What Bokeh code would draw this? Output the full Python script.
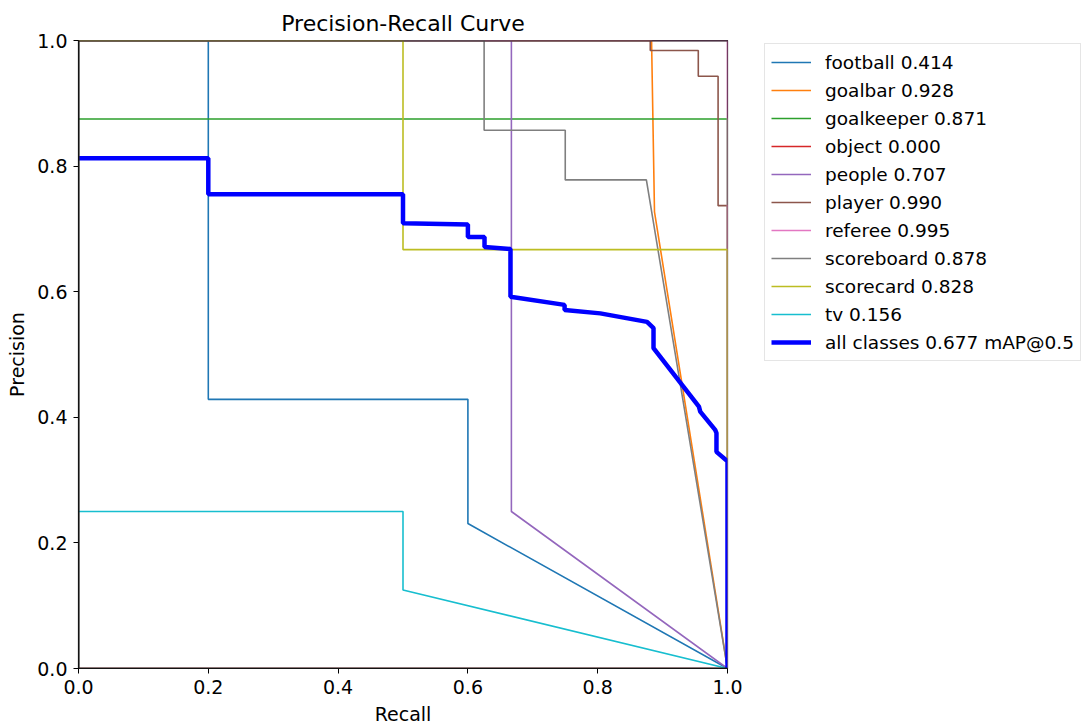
from bokeh.plotting import figure
from bokeh.layouts import row
from bokeh.models import Legend, LegendItem, Range1d, FixedTicker, PrintfTickFormatter, Span
from bokeh.embed import file_html
from bokeh.resources import INLINE

# ---- data (recall, precision) ----
football_r = [0.0, 0.2, 0.2, 0.6, 0.6, 1.0]
football_p = [1.0, 1.0, 0.4286, 0.4286, 0.2308, 0.0]

goalbar_r = [0.0, 0.883, 0.8875, 1.0]
goalbar_p = [1.0, 1.0, 0.727, 0.0]

goalkeeper_r = [0.0, 1.0, 1.0]
goalkeeper_p = [0.875, 0.875, 0.0]

object_r = [0.0, 1.0]
object_p = [0.0, 0.0]

people_r = [0.0, 0.667, 0.667, 1.0]
people_p = [1.0, 1.0, 0.25, 0.0]

player_r = [0.0, 0.881, 0.881, 0.955, 0.955, 0.9855, 0.9855, 1.0, 1.0]
player_p = [1.0, 1.0, 0.984, 0.984, 0.943, 0.943, 0.737, 0.737, 0.0]

referee_r = [0.0, 1.0, 1.0]
referee_p = [1.0, 1.0, 0.0]

scoreboard_r = [0.0, 0.625, 0.625, 0.75, 0.75, 0.875, 1.0]
scoreboard_p = [1.0, 1.0, 0.857, 0.857, 0.778, 0.778, 0.0]

scorecard_r = [0.0, 0.5, 0.5, 1.0, 1.0]
scorecard_p = [1.0, 1.0, 0.667, 0.667, 0.0]

tv_r = [0.0, 0.5, 0.5, 1.0]
tv_p = [0.25, 0.25, 0.125, 0.0]

all_r = [0.0, 0.2, 0.2, 0.5, 0.5, 0.6, 0.6, 0.6256, 0.6256, 0.6656, 0.6656,
         0.749, 0.749, 0.804, 0.876, 0.886, 0.886, 0.956, 0.958, 0.981, 0.983,
         0.983, 1.0, 1.0]
all_p = [0.8125, 0.8125, 0.755, 0.755, 0.709, 0.707, 0.687, 0.687, 0.671, 0.668,
         0.592, 0.579, 0.571, 0.5655, 0.552, 0.542, 0.51, 0.417, 0.409, 0.38, 0.375,
         0.345, 0.33, 0.0]

class_names = ["football", "goalbar", "goalkeeper", "object", "people",
               "player", "referee", "scoreboard", "scorecard", "tv"]
class_ap = ["0.414", "0.928", "0.871", "0.000", "0.707",
            "0.990", "0.995", "0.878", "0.828", "0.156"]
all_label = "all classes 0.677 mAP@0.5"
ticks = [0.0, 0.2, 0.4, 0.6, 0.8, 1.0]

series = [
    (football_r, football_p), (goalbar_r, goalbar_p), (goalkeeper_r, goalkeeper_p),
    (object_r, object_p), (people_r, people_p), (player_r, player_p),
    (referee_r, referee_p), (scoreboard_r, scoreboard_p), (scorecard_r, scorecard_p),
    (tv_r, tv_p),
]
colors = ["#1f77b4", "#ff7f0e", "#2ca02c", "#d62728", "#9467bd",
          "#8c564b", "#e377c2", "#7f7f7f", "#bcbd22", "#17becf"]

FONT = "DejaVu Sans"
CLASS_LW = 1.6
ALL_LW = 4.5

p = figure(width=747, height=727, output_backend="svg", toolbar_location=None,
           x_range=Range1d(0, 1), y_range=Range1d(0, 1),
           min_border_left=78, min_border_right=20, min_border_top=40,
           min_border_bottom=58, title="Precision-Recall Curve")

p.title.text_font = FONT
p.title.text_font_size = "22px"
p.title.text_font_style = "normal"
p.title.align = "center"
p.title.text_color = "black"

p.xgrid.visible = False
p.ygrid.visible = False
p.outline_line_color = "black"
p.outline_line_width = 1.2
p.outline_line_alpha = 1.0

for ax, lab in ((p.xaxis[0], "Recall"), (p.yaxis[0], "Precision")):
    ax.ticker = FixedTicker(ticks=ticks)
    ax.formatter = PrintfTickFormatter(format="%.1f")
    ax.axis_label = lab
    ax.axis_label_text_font = FONT
    ax.axis_label_text_font_size = "19px"
    ax.axis_label_text_font_style = "normal"
    ax.axis_label_text_color = "black"
    ax.major_label_text_font = FONT
    ax.major_label_text_font_size = "19px"
    ax.major_label_text_color = "black"
    ax.major_tick_out = 5
    ax.major_tick_in = 0
    ax.minor_tick_out = 0
    ax.minor_tick_in = 0
    ax.axis_line_color = "black"
    ax.major_tick_line_color = "black"
    ax.axis_label_standoff = 6
    ax.major_label_standoff = 6

for (r, pr), c in zip(series, colors):
    p.line(r, pr, line_color=c, line_width=CLASS_LW)
p.line(all_r, all_p, line_color="#0000ff", line_width=ALL_LW)

# spines drawn on top of the curves (as matplotlib does)
for loc, dim in ((1.0, "width"), (0.0, "width"), (0.0, "height")):
    p.add_layout(Span(location=loc, dimension=dim, line_color="#262626",
                      line_width=2.2, level="overlay"))

# ---- legend panel (separate figure to the right of the plot) ----
# its ranges are set away from the data so only the legend shows
lg = figure(width=342, height=727, output_backend="svg", toolbar_location=None,
            x_range=Range1d(5, 6), y_range=Range1d(5, 6),
            min_border=0, outline_line_color=None)
lg.axis.visible = False
lg.xgrid.visible = False
lg.ygrid.visible = False

items = []
for (r, pr), c, n, ap in zip(series, colors, class_names, class_ap):
    g = lg.line(r, pr, line_color=c, line_width=CLASS_LW)
    items.append(LegendItem(label=f"{n} {ap}", renderers=[g]))
ga = lg.line(all_r, all_p, line_color="#0000ff", line_width=ALL_LW)
items.append(LegendItem(label=all_label, renderers=[ga]))

legend = Legend(items=items, location=(17, 307))
legend.label_text_font = FONT
legend.label_text_font_size = "18.5px"
legend.label_text_color = "black"
legend.glyph_width = 40
legend.glyph_height = 24
legend.label_height = 24
legend.spacing = 4
legend.padding = 6
legend.label_standoff = 14
legend.margin = 0
legend.border_line_color = "#cccccc"
legend.border_line_width = 1
legend.background_fill_color = "white"
legend.background_fill_alpha = 0.8
lg.add_layout(legend, "center")

layout = row(p, lg, spacing=0)

open("out.html", "w").write(file_html(layout, INLINE))
